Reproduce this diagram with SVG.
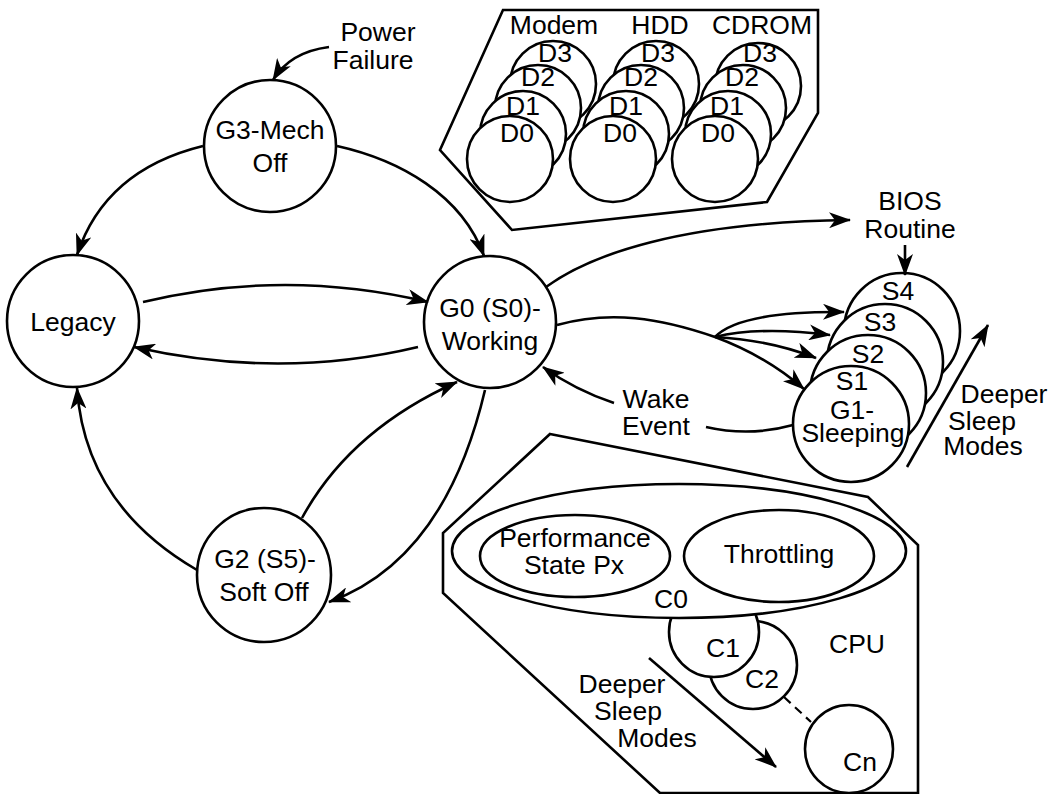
<svg xmlns="http://www.w3.org/2000/svg" width="1054" height="794" viewBox="0 0 1054 794">
<style>
  text { font-family: "Liberation Sans", Arial, sans-serif; font-size: 26.5px; fill: #000; text-anchor: middle; }
  .n { fill: #fff; stroke: #000; stroke-width: 2.6; }
  .ln { fill: none; stroke: #000; stroke-width: 2.6; }
  .ar { fill: none; stroke: #000; stroke-width: 2.6; marker-end: url(#ah); }
  .dash { fill: none; stroke: #000; stroke-width: 2.2; stroke-dasharray: 9 6; }
</style>
<defs>
  <marker id="ah" viewBox="0 0 22 16" refX="21" refY="8" markerWidth="22" markerHeight="16" orient="auto" markerUnits="userSpaceOnUse">
    <path d="M0,0 L22,8 L0,16 L6,8 Z" fill="#000"/>
  </marker>
</defs>
<rect width="1054" height="794" fill="#fff"/>

<!-- Device power states -->
<g id="devices">
  <polygon class="n" points="503,10 818,10 818,113 767,202 512,230 440,150"/>
  <text x="554" y="34">Modem</text>
  <text x="660" y="34">HDD</text>
  <text x="762" y="34">CDROM</text>
  <g id="modem">
    <circle class="n" cx="553" cy="84" r="43"/><text x="555" y="62">D3</text>
    <circle class="n" cx="538" cy="108" r="43"/><text x="538" y="86">D2</text>
    <circle class="n" cx="523" cy="134" r="43"/><text x="523" y="115">D1</text>
    <circle class="n" cx="510" cy="159" r="43"/><text x="517" y="142">D0</text>
  </g>
  <g id="hdd">
    <circle class="n" cx="656" cy="84" r="43"/><text x="658" y="62">D3</text>
    <circle class="n" cx="641" cy="108" r="43"/><text x="641" y="86">D2</text>
    <circle class="n" cx="626" cy="134" r="43"/><text x="626" y="115">D1</text>
    <circle class="n" cx="613" cy="159" r="43"/><text x="620" y="142">D0</text>
  </g>
  <g id="cdrom">
    <circle class="n" cx="758" cy="86" r="43"/><text x="760" y="62">D3</text>
    <circle class="n" cx="743" cy="108" r="43"/><text x="742" y="86">D2</text>
    <circle class="n" cx="728" cy="134" r="43"/><text x="727" y="115">D1</text>
    <circle class="n" cx="715" cy="159" r="43"/><text x="718" y="142">D0</text>
  </g>
</g>

<!-- CPU states -->
<g id="cpu">
  <polygon class="n" points="550,434 868,497 918,545 918,793 660,793 443,593 443,533"/>
  <circle class="n" cx="849" cy="749" r="44"/>
  <text x="860" y="771">Cn</text>
  <line class="dash" x1="784" y1="697" x2="811" y2="722"/>
  <circle class="n" cx="753" cy="665" r="44"/>
  <text x="762" y="688">C2</text>
  <circle class="n" cx="714" cy="632" r="45"/>
  <text x="723" y="657">C1</text>
  <ellipse class="n" cx="679" cy="551" rx="227" ry="67"/>
  <text x="671" y="608">C0</text>
  <ellipse class="n" cx="575" cy="556" rx="95" ry="41"/>
  <text x="575" y="547">Performance</text>
  <text x="574" y="574">State Px</text>
  <ellipse class="n" cx="779" cy="556" rx="95" ry="46"/>
  <text x="779" y="563">Throttling</text>
  <text x="857" y="653">CPU</text>
  <text x="622" y="693">Deeper</text>
  <text x="628" y="720">Sleep</text>
  <text x="657" y="747">Modes</text>
  <line class="ar" x1="649" y1="658" x2="776" y2="767"/>
</g>

<!-- Global states -->
<g id="g3">
  <circle class="n" cx="270" cy="146" r="66"/>
  <text x="270" y="139">G3-Mech</text>
  <text x="270" y="172">Off</text>
</g>
<g id="legacy">
  <circle class="n" cx="73" cy="321" r="66"/>
  <text x="73" y="331">Legacy</text>
</g>
<g id="g0">
  <circle class="n" cx="490" cy="322" r="66"/>
  <text x="490" y="317">G0 (S0)-</text>
  <text x="490" y="350">Working</text>
</g>
<g id="g2">
  <circle class="n" cx="264" cy="575" r="67"/>
  <text x="265" y="568">G2 (S5)-</text>
  <text x="264" y="601">Soft Off</text>
</g>
<g id="g1">
  <circle class="n" cx="902" cy="331" r="58"/>
  <text x="898" y="300">S4</text>
  <circle class="n" cx="885" cy="362" r="58"/>
  <text x="880" y="331">S3</text>
  <circle class="n" cx="868" cy="393" r="58"/>
  <text x="868" y="363">S2</text>
  <circle class="n" cx="851" cy="424" r="58"/>
  <text x="852" y="390">S1</text>
  <text x="852" y="419">G1-</text>
  <text x="853" y="442">Sleeping</text>
</g>

<g id="labels">
  <text x="378" y="41">Power</text>
  <text x="373" y="69">Failure</text>
  <text x="910" y="210">BIOS</text>
  <text x="910" y="238">Routine</text>
  <text x="656" y="408">Wake</text>
  <text x="656" y="435">Event</text>
  <text x="1004" y="403">Deeper</text>
  <text x="982" y="430">Sleep</text>
  <text x="983" y="455">Modes</text>
</g>

<g id="connectors">
  <path class="ar" d="M329,47 Q290,52 273,80"/>
  <path class="ar" d="M203,146 Q105,170 77,255"/>
  <path class="ar" d="M337,146 C400,160 462,195 484,256"/>
  <path class="ar" d="M143,302 Q285,268 428,302"/>
  <path class="ar" d="M418,347 Q280,380 134,347"/>
  <path class="ar" d="M197,570 Q85,505 77,388"/>
  <path class="ar" d="M302,518 Q350,430 457,382"/>
  <path class="ar" d="M485,390 Q445,560 329,602"/>
  <path class="ar" d="M546,287 C590,255 680,222 850,220"/>
  <line class="ar" x1="905" y1="245" x2="905" y2="275"/>
  <path class="ar" d="M557,325 C610,310 660,318 715,337 C750,350 780,368 804,389"/>
  <path class="ar" d="M715,337 Q740,311 844,312"/>
  <path class="ar" d="M715,337 Q760,326 830,335"/>
  <path class="ar" d="M715,337 Q770,340 816,358"/>
  <path class="ln" d="M793,425 Q750,437 706,427"/>
  <path class="ar" d="M614,403 Q575,390 543,367"/>
  <line class="ar" x1="907" y1="467" x2="988" y2="325"/>
</g>
</svg>
